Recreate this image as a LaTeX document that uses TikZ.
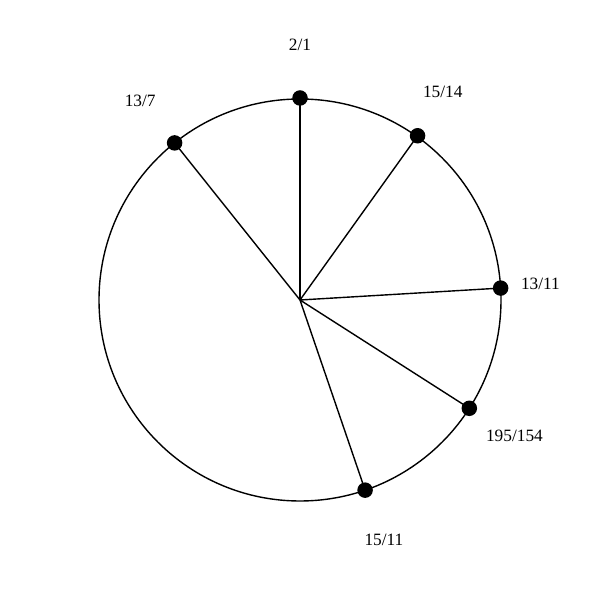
\documentclass[tikz,border=0pt]{standalone}
\usepackage{fontspec}
\setmainfont{Liberation Serif}
\begin{document}
\begin{tikzpicture}[x=1pt,y=1pt,
  dot/.style={circle,fill=black,draw=none,minimum size=15.5pt,inner sep=0pt},
  lbl/.style={font=\fontsize{17.3}{19}\selectfont,inner sep=0pt},
  edge/.style={line width=1.4pt}]
\useasboundingbox (0,0) rectangle (600,600);
\begin{scope}[shift={(300,300)}]
\coordinate (c) at (0,0);
\draw[edge] (c) circle[radius=201];
\node[dot] (p1) at (90:202) {};
\node[dot] (p2) at (54.4:202) {};
\node[dot] (p3) at (3.4:201) {};
\node[dot] (p4) at (-32.6:201) {};
\node[dot] (p5) at (-71.1:201) {};
\node[dot] (p6) at (128.6:201) {};
\foreach \p in {p1,p2,p3,p4,p5,p6} \draw[edge] (c) -- (\p.center);
\node[lbl] (l1) at (90:255.5) {2/1};
\node[lbl] (l2) at (55.5:252) {15/14};
\node[lbl] (l3) at (3.8:241) {13/11};
\node[lbl] (l4) at (-32.4:254) {195/154};
\node[lbl] (l5) at (-70.7:254) {15/11};
\node[lbl] (l6) at (128.8:255) {13/7};
\end{scope}
\end{tikzpicture}
\end{document}
